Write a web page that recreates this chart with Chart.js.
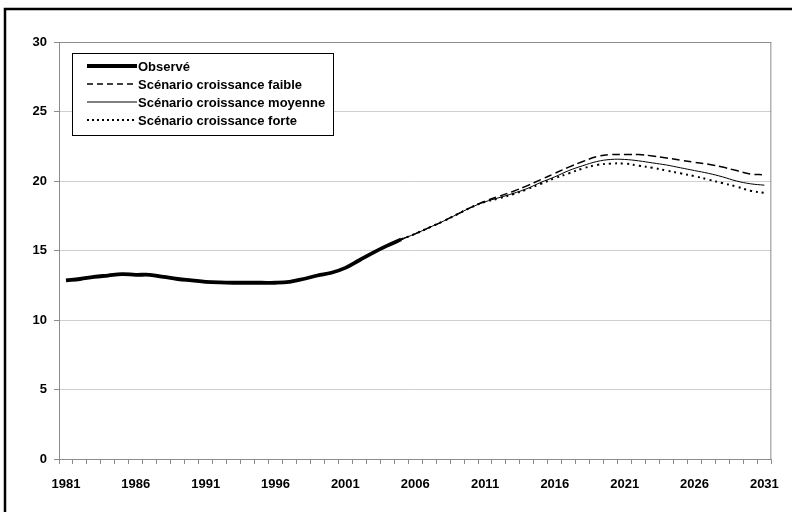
<!DOCTYPE html>
<html>
<head>
<meta charset="utf-8">
<script src="https://cdn.jsdelivr.net/npm/chart.js@4/dist/chart.umd.min.js"></script>
<style>
  html, body { margin: 0; padding: 0; background: #fff; }
  #wrap { width: 792px; height: 512px; position: relative; }
</style>
</head>
<body>
<div id="wrap"><canvas id="chart" width="792" height="512"></canvas></div>
<script>
// years on the category axis
const years = [];
for (let y = 1981; y <= 2031; y++) years.push(String(y));

const tickYears = ['1981', '1986', '1991', '1996', '2001', '2006', '2011', '2016', '2021', '2026', '2031'];

// observed 1981-2005
const observed = [12.85, 12.95, 13.1, 13.2, 13.3, 13.25, 13.25, 13.1, 12.95, 12.85,
  12.75, 12.7, 12.68, 12.68, 12.68, 12.68, 12.75, 12.95, 13.2, 13.4,
  13.75, 14.3, 14.85, 15.35, 15.8];

// scenarios 2005-2031
const scenFaible = [15.8, 16.2, 16.65, 17.1, 17.6, 18.1, 18.55, 18.9, 19.25, 19.65,
  20.1, 20.55, 21.0, 21.4, 21.75, 21.9, 21.9, 21.9, 21.8, 21.65,
  21.5, 21.35, 21.2, 21.0, 20.75, 20.5, 20.45];
const scenMoyenne = [15.8, 16.2, 16.65, 17.1, 17.6, 18.1, 18.5, 18.8, 19.1, 19.45,
  19.9, 20.3, 20.75, 21.1, 21.4, 21.55, 21.55, 21.45, 21.3, 21.15,
  20.95, 20.75, 20.55, 20.3, 20.0, 19.8, 19.7];
const scenForte = [15.8, 16.2, 16.65, 17.1, 17.6, 18.1, 18.5, 18.75, 19.05, 19.4,
  19.8, 20.2, 20.55, 20.9, 21.15, 21.25, 21.25, 21.1, 20.95, 20.75,
  20.55, 20.35, 20.1, 19.85, 19.6, 19.3, 19.15];

const legendLabels = ['Observé', 'Scénario croissance faible', 'Scénario croissance moyenne', 'Scénario croissance forte'];

// pad series to the full year range
const padEnd = arr => arr.concat(new Array(years.length - arr.length).fill(null));
const padStart = arr => new Array(years.length - arr.length).fill(null).concat(arr);

const FONT = 'bold 13px "Liberation Sans", Arial, sans-serif';

const frame = {
  id: 'frame',
  beforeDraw(chart) {
    const ctx = chart.ctx;
    ctx.save();
    // outer frame (only left/top visible)
    ctx.strokeStyle = '#000';
    ctx.lineWidth = 2.5;
    ctx.beginPath();
    ctx.moveTo(5, 512);
    ctx.lineTo(5, 9);
    ctx.lineTo(792, 9);
    ctx.stroke();
    ctx.restore();
  },
  afterDatasetsDraw(chart) {
    const ctx = chart.ctx;
    const a = chart.chartArea;
    ctx.save();
    ctx.strokeStyle = '#8c8c8c';
    ctx.lineWidth = 1;
    ctx.strokeRect(a.left + 0.5, a.top + 0.5, a.right - a.left - 1, a.bottom - a.top);
    // legend box
    const bx = 72, by = 53, bw = 261, bh = 82;
    ctx.fillStyle = '#fff';
    ctx.fillRect(bx, by, bw, bh);
    ctx.strokeStyle = '#000';
    ctx.lineWidth = 1;
    ctx.strokeRect(bx + 0.5, by + 0.5, bw, bh);
    ctx.font = FONT;
    ctx.textBaseline = 'middle';
    ctx.fillStyle = '#000';
    chart.data.datasets.forEach((ds, i) => {
      const y = 66 + i * 18;
      ctx.beginPath();
      ctx.lineWidth = ds.borderWidth;
      ctx.setLineDash(ds.legendDash || []);
      ctx.moveTo(87, y);
      ctx.lineTo(137, y);
      ctx.stroke();
      ctx.setLineDash([]);
      ctx.fillText(legendLabels[i], 138, y + 1);
    });
    ctx.restore();
  }
};

new Chart(document.getElementById('chart'), {
  type: 'line',
  data: {
    labels: years,
    datasets: [
      {
        data: padEnd(observed),
        borderColor: '#000',
        borderWidth: 3.8,
        tension: 0.4,
        pointRadius: 0
      },
      {
        data: padStart(scenFaible),
        borderColor: '#000',
        borderWidth: 1.5,
        borderDash: [8, 4],
        legendDash: [6, 4],
        tension: 0.4,
        pointRadius: 0
      },
      {
        data: padStart(scenMoyenne),
        borderColor: '#000',
        borderWidth: 1,
        tension: 0.4,
        pointRadius: 0
      },
      {
        data: padStart(scenForte),
        borderColor: '#000',
        borderWidth: 2,
        borderDash: [2, 4],
        legendDash: [2, 3],
        tension: 0.4,
        pointRadius: 0
      }
    ]
  },
  options: {
    responsive: false,
    animation: false,
    layout: { padding: { left: 0, top: 42, right: 18, bottom: 0 } },
    plugins: {
      legend: { display: false },
      tooltip: { enabled: false }
    },
    scales: {
      x: {
        offset: true,
        afterFit: s => { s.height = 53; },
        border: { color: '#8c8c8c' },
        grid: { offset: true, drawOnChartArea: false, tickLength: 5, color: '#8c8c8c' },
        ticks: {
          autoSkip: false,
          maxRotation: 0,
          padding: 13,
          color: '#000',
          font: { family: '"Liberation Sans", Arial, sans-serif', size: 13, weight: 'bold' },
          callback: function (v) {
            const lab = this.getLabelForValue(v);
            return tickYears.includes(lab) ? lab : '';
          }
        }
      },
      y: {
        min: 0,
        max: 30,
        afterFit: s => { s.width = 59; },
        border: { color: '#8c8c8c' },
        grid: { color: '#cfcfcf', tickColor: '#8c8c8c', tickLength: 5 },
        ticks: {
          stepSize: 5,
          padding: 7,
          color: '#000',
          font: { family: '"Liberation Sans", Arial, sans-serif', size: 13, weight: 'bold' }
        }
      }
    }
  },
  plugins: [frame]
});
</script>
</body>
</html>
